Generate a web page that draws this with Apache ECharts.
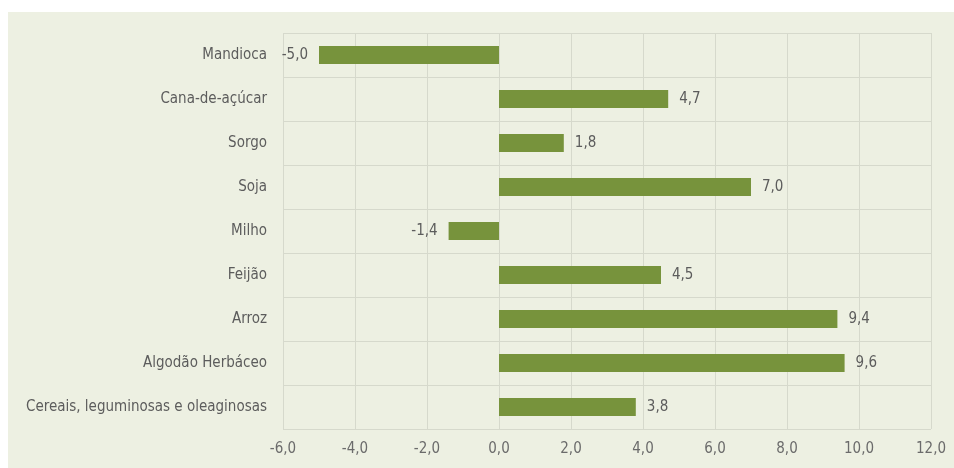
<!DOCTYPE html>
<html>
<head>
<meta charset="utf-8">
<script src="https://cdn.jsdelivr.net/npm/echarts@6/dist/echarts.min.js"></script>
<style>
  html, body { margin: 0; padding: 0; background: #fff; }
  #chart { width: 954px; height: 468px; }
</style>
</head>
<body>
<div id="chart"></div>
<script>
// categorias de cima para baixo
var categorias = ['Mandioca', 'Cana-de-açúcar', 'Sorgo', 'Soja', 'Milho', 'Feijão', 'Arroz', 'Algodão Herbáceo', 'Cereais, leguminosas e oleaginosas']
var valores = [-5.0, 4.7, 1.8, 7.0, -1.4, 4.5, 9.4, 9.6, 3.8]
var eixoMin = -6
var eixoMax = 12
var eixoPasso = 2

var fonte = '"DejaVu Sans Condensed", "Liberation Sans", Arial, sans-serif'
var virgula = function (v) { return Number(v).toFixed(1).replace('.', ',') }

var chart = echarts.init(document.getElementById('chart'))

var option = {
  backgroundColor: '#fff',
  animation: false,
  graphic: [{
    type: 'rect',
    z: -10,
    shape: { x: 8, y: 12, width: 946, height: 456 },
    style: { fill: '#edf0e2' }
  }],
  grid: { left: 283, right: 23, top: 33, bottom: 39 },
  xAxis: {
    type: 'value',
    min: eixoMin,
    max: eixoMax,
    interval: eixoPasso,
    axisLine: { show: false },
    axisTick: { show: false },
    splitLine: { show: true, lineStyle: { color: '#d6d9cc', width: 1 } },
    axisLabel: {
      margin: 13,
      color: '#6b6b6b',
      fontSize: 15,
      fontFamily: fonte,
      formatter: virgula
    }
  },
  yAxis: {
    type: 'category',
    inverse: true,
    data: categorias,
    axisLine: { show: false },
    axisTick: { show: false },
    splitLine: { show: true, lineStyle: { color: '#d6d9cc', width: 1 } },
    axisLabel: {
      margin: 16,
      color: '#5c5c5c',
      fontSize: 15,
      fontFamily: fonte
    }
  },
  series: [{
    type: 'bar',
    barWidth: 18,
    itemStyle: { color: '#77933c' },
    data: valores.map(function (v) {
      return {
        value: v,
        label: {
          show: true,
          position: v < 0 ? 'left' : 'right',
          distance: 11,
          color: '#5c5c5c',
          fontSize: 15,
          fontFamily: fonte,
          formatter: function (p) { return virgula(p.value) }
        }
      }
    })
  }]
}

chart.setOption(option)
</script>
</body>
</html>
